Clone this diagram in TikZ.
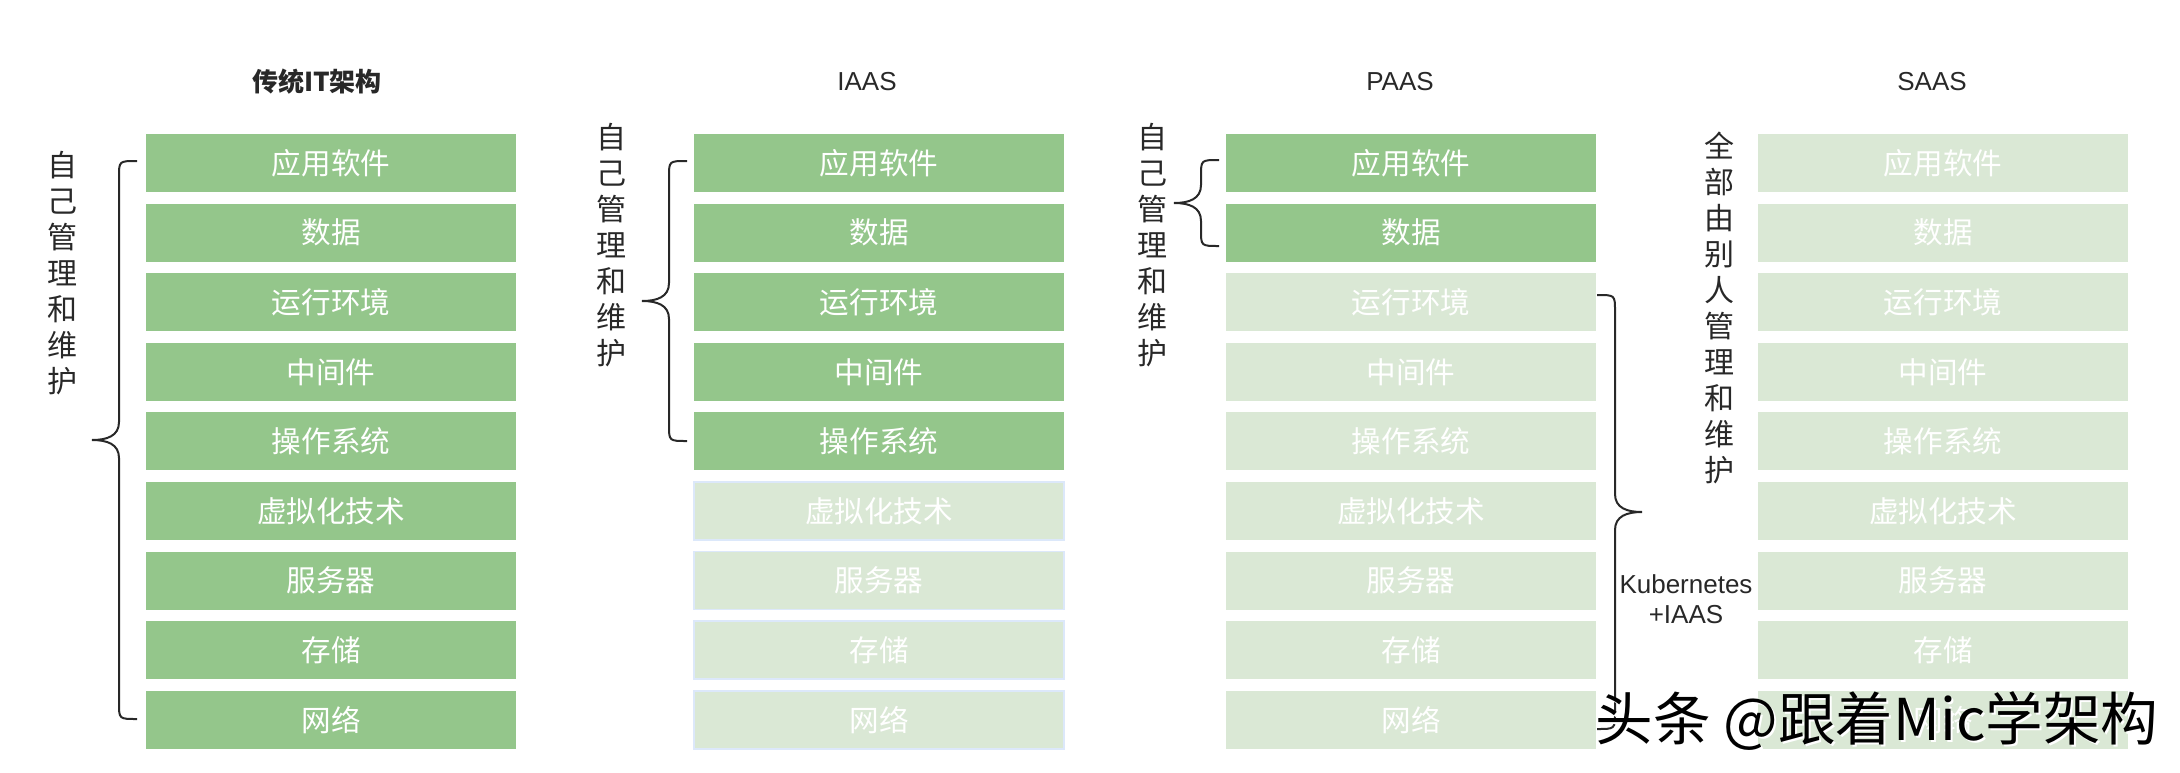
\documentclass[tikz,border=0pt]{standalone}
\usepackage{fontspec}
\setmainfont{Liberation Sans}
\newfontfamily\cjk{Noto Sans CJK SC}
\usetikzlibrary{calc}

\definecolor{ownedgreen}{RGB}{148,198,139}
\definecolor{hostedgreen}{RGB}{218,232,213}
\definecolor{edgeblue}{RGB}{220,232,250}
\definecolor{inkgray}{RGB}{40,40,40}

\tikzset{
  layer/.style={rectangle, minimum width=185pt, minimum height=29pt, inner sep=0pt,
    text=white, font=\cjk\fontsize{14.8pt}{16pt}\selectfont},
  ownedbox/.style={layer, fill=ownedgreen},
  hostedbox/.style={layer, fill=hostedgreen},
  edgedbox/.style={hostedbox, draw=edgeblue, line width=0.8pt},
  coltitle/.style={text=inkgray, inner sep=0pt, font=\fontsize{13pt}{15pt}\selectfont},
  sidetext/.style={text=inkgray, align=center, inner sep=0pt,
    font=\cjk\fontsize{15pt}{18pt}\selectfont},
  bracestyle/.style={inkgray, line width=1pt},
}

% brace: #1 end x, #2 top y, #3 bottom y, #4 = 1 opens right, -1 opens left
\newcommand{\sidebrace}[4]{%
  \pgfmathsetmacro{\bs}{#1-18*#4}%
  \pgfmathsetmacro{\bt}{#1-45*#4}%
  \pgfmathsetmacro{\bc}{#1-30*#4}%
  \pgfmathsetmacro{\bm}{(#2+#3)/2}%
  \draw[bracestyle] (#1,#2) .. controls (\bs,#2) .. (\bs,#2+16) -- (\bs,\bm-18)
    .. controls (\bs,\bm-4) and (\bc,\bm) .. (\bt,\bm) .. controls (\bc,\bm) and (\bs,\bm+4) .. (\bs,\bm+18)
    -- (\bs,#3-16) .. controls (\bs,#3) .. (#1,#3);}

\begin{document}
\begin{tikzpicture}[x=0.5pt,y=-0.5pt]
\useasboundingbox (0,0) rectangle (2180,772);

% the nine layers of each column
\foreach \x/\c/\n/\h in {331/trad/9/hostedbox, 879/iaas/5/edgedbox, 1411/paas/2/hostedbox, 1943/saas/0/hostedbox} {
  \foreach \t [count=\i from 0] in {应用软件,数据,运行环境,中间件,操作系统,虚拟化技术,服务器,存储,网络} {
    \ifnum\i<\n \def\st{ownedbox}\else\let\st\h\fi
    \node[\st] (\c-\i) at (\x,{163+69.6*\i}) {\t};
  }
}

\node[coltitle] (trad-title) at (317,82) {\cjk\bfseries 传统IT架构};
\node[coltitle] (iaas-title) at (867,82) {IAAS};
\node[coltitle] (paas-title) at (1400,82) {PAAS};
\node[coltitle] (saas-title) at (1932,82) {SAAS};

\sidebrace{137}{161}{719}{1}
\sidebrace{687}{161}{441}{1}
\sidebrace{1219}{160}{246}{1}
\sidebrace{1597}{295}{729}{-1}

\node[sidetext] (trad-self) at (62,273) {自\\己\\管\\理\\和\\维\\护};
\node[sidetext] (iaas-self) at (611,245) {自\\己\\管\\理\\和\\维\\护};
\node[sidetext] (paas-self) at (1152,245) {自\\己\\管\\理\\和\\维\\护};
\node[sidetext] (saas-other) at (1719,308) {全\\部\\由\\别\\人\\管\\理\\和\\维\\护};

\node[text=inkgray, align=center, inner sep=0pt, font=\fontsize{13pt}{15pt}\selectfont]
  (k8s) at (1686,599) {Kubernetes\\+IAAS};

% watermark
\node[text=white, font=\cjk\fontsize{28.8pt}{30pt}\selectfont] (mark-shade) at (1879,723) {头条 @跟着Mic学架构};
\node[text=black, font=\cjk\fontsize{28.8pt}{30pt}\selectfont] (mark) at (1877,721) {头条 @跟着Mic学架构};
\end{tikzpicture}
\end{document}
